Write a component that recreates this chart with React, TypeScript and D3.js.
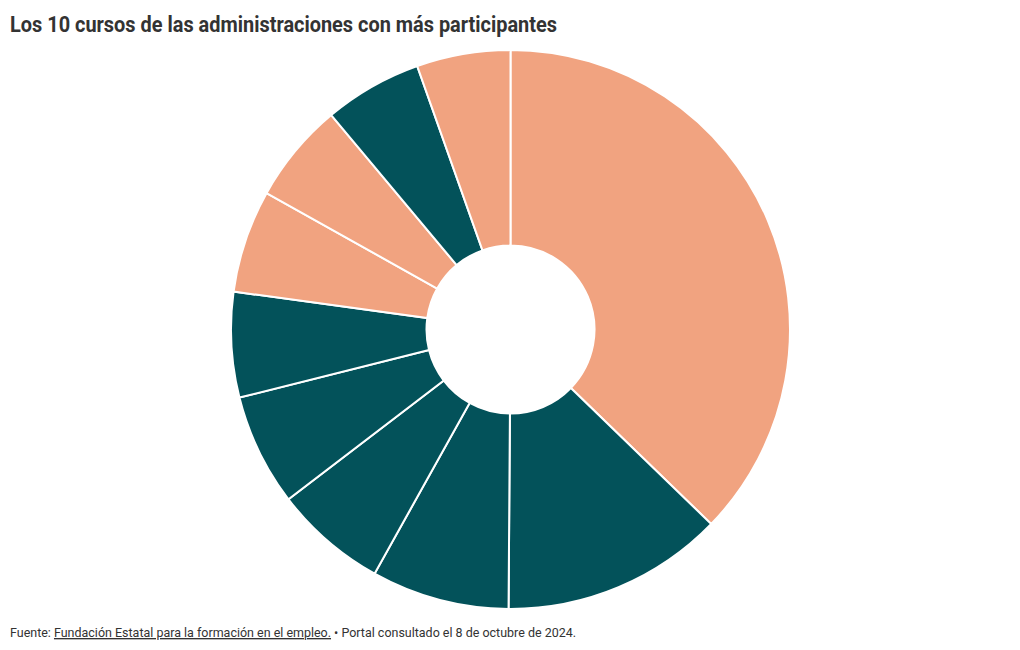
import React from "react";
import * as d3 from "d3";

const courses = [
  "Curso 1", "Curso 2", "Curso 3", "Curso 4", "Curso 5",
  "Curso 6", "Curso 7", "Curso 8", "Curso 9", "Curso 10",
];
const participants = [134.1, 46.3, 28.7, 23.5, 23.3, 21.9, 21.4, 20.9, 20.4, 19.5];
const sliceColors = [
  "#f1a380", "#03525a", "#03525a", "#03525a", "#03525a",
  "#03525a", "#f1a380", "#f1a380", "#03525a", "#f1a380",
];

const title = "Los 10 cursos de las administraciones con más participantes";

export default function App() {
  const width = 1020;
  const height = 650;
  const cx = 510.5;
  const cy = 329.5;
  const outer = 279.5;
  const inner = 84;

  const data = courses.map((c, i) => ({ name: c, value: participants[i], color: sliceColors[i] }));
  const pie = d3.pie<any>().sort(null).value((d: any) => d.value);
  const arc = d3.arc<any>().innerRadius(inner).outerRadius(outer);
  const arcs = pie(data);

  return (
    <svg width={width} height={height} style={{ position: "absolute", left: 0, top: 0, background: "#fff" }}>
      <text x={10} y={32} fontFamily="Roboto, sans-serif" fontWeight={700} fontSize={22} fill="#333"
        textLength={547} lengthAdjust="spacingAndGlyphs">{title}</text>
      <g transform={`translate(${cx},${cy})`}>
        {arcs.map((a, i) => (
          <path key={i} d={arc(a) as string} fill={a.data.color} stroke="#fff" strokeWidth={2} />
        ))}
      </g>
      <text x={10} y={637} fontFamily="Roboto, sans-serif" fontSize={13.5} fill="#333"
        textLength={566} lengthAdjust="spacingAndGlyphs">
        <tspan>Fuente: </tspan>
        <tspan textDecoration="underline">Fundación Estatal para la formación en el empleo.</tspan>
        <tspan> • Portal consultado el 8 de octubre de 2024.</tspan>
      </text>
    </svg>
  );
}
